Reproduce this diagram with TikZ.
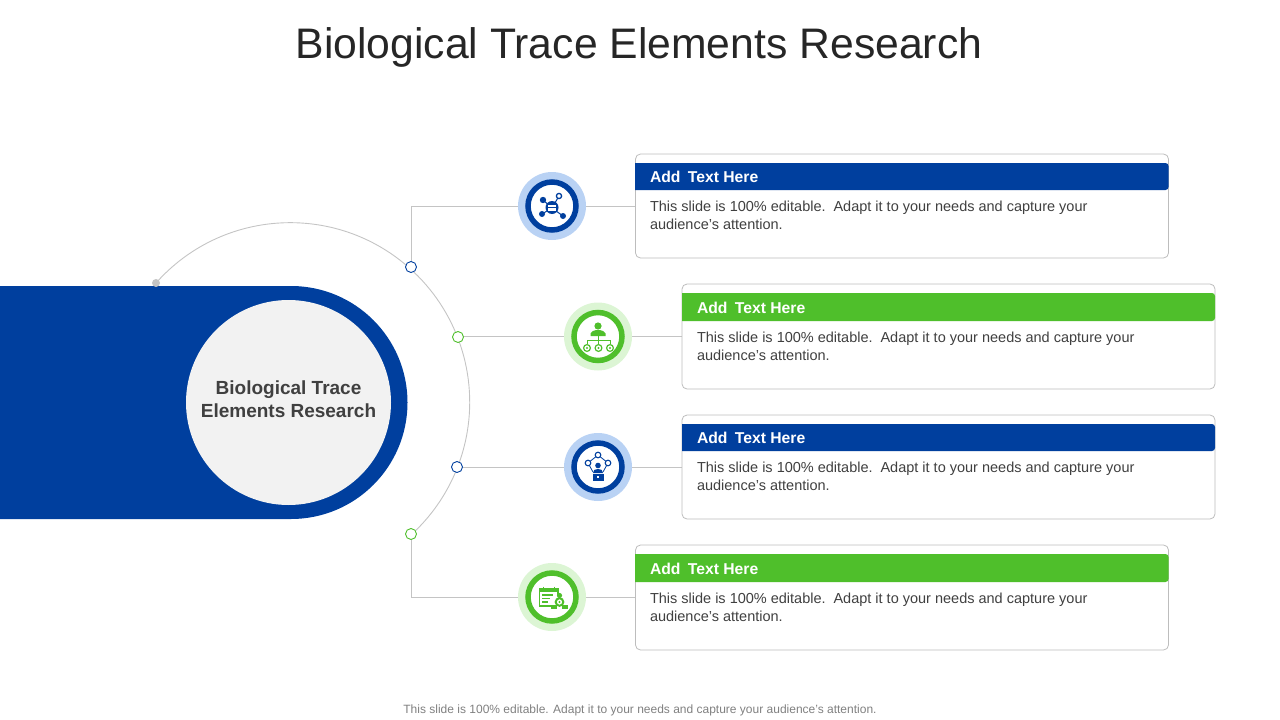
\documentclass[tikz,border=0pt]{standalone}
\usepackage{fontspec}
\setmainfont{Liberation Sans}
\usetikzlibrary{backgrounds}
\definecolor{bluem}{HTML}{003F9E}
\definecolor{greenm}{HTML}{4FBF2B}
\definecolor{bluel}{HTML}{B9D2F4}
\definecolor{greenl}{HTML}{DCF5D4}
\definecolor{linec}{HTML}{C4C4C4}
\definecolor{cardl}{HTML}{BDBDBD}
\definecolor{txt}{HTML}{404040}
\tikzset{
  every node/.style={inner sep=0pt,outer sep=0pt},
  cardbox/.style={draw=cardl,line width=0.8pt,fill=white,rounded corners=5pt,anchor=north west,minimum width=533pt,minimum height=104pt},
  halo/.style={circle,minimum size=68pt},
  ring/.style={circle,fill=white,line width=5.5pt,minimum size=48pt},
  dotm/.style={circle,fill=white,line width=0.9pt,minimum size=11pt},
  conn/.style={draw=linec,line width=0.9pt},
  headt/.style={anchor=west,text=white,font=\fontsize{15.7}{18}\selectfont\bfseries},
  bodyt/.style={anchor=north west,text=txt,align=left,font=\fontsize{14.5}{18}\selectfont},
}
\newcommand{\bodytext}{This slide is 100\% editable.\hspace{2.5pt} Adapt it to your needs and capture your\\audience's attention.}
\newcommand{\headtext}{Add\hspace{3pt} Text Here}
\begin{document}
\begin{tikzpicture}[x=1pt,y=-1pt]
\useasboundingbox (0,0) rectangle (1280,720);
% left band
\fill[bluem] (0,286) -- (291,286) arc[start angle=-90,end angle=90,radius=116.5] -- (0,519) -- cycle;
\node[circle,fill=black!5,minimum size=205pt] (hub) at (288.5,402.5) {};
\node[align=center,text=txt,font=\fontsize{19}{23}\selectfont\bfseries] (hubtext) at (288.5,399.5) {Biological Trace\\Elements Research};
% arc
\coordinate (arcstart) at (156,283);
\draw[conn] (arcstart) arc[start angle=-138.4,end angle=47.5,radius=179.5];
\node[circle,fill=linec,minimum size=8pt] (startdot) at (arcstart) {};
% cards
\node[cardbox] (c1) at (635.5,154) {};
\node[cardbox,minimum height=105pt] (c2) at (682,284) {};
\node[cardbox] (c3) at (682,415) {};
\node[cardbox,minimum height=105pt] (c4) at (635.5,545) {};
% headers
\fill[bluem] (635,163) [rounded corners=3pt] -- (1168.5,163) -- (1168.5,190) [sharp corners] -- (635,190) -- cycle;
\fill[greenm] (682,293) [rounded corners=3pt] -- (1215,293) -- (1215,321) [sharp corners] -- (682,321) -- cycle;
\fill[bluem] (682,424) [rounded corners=3pt] -- (1215,424) -- (1215,451) [sharp corners] -- (682,451) -- cycle;
\fill[greenm] (635,554) [rounded corners=3pt] -- (1168.5,554) -- (1168.5,582) [sharp corners] -- (635,582) -- cycle;
\node[headt] (h1) at (650,177.3) {\headtext};
\node[headt] (h2) at (697,308.3) {\headtext};
\node[headt] (h3) at (697,438.3) {\headtext};
\node[headt] (h4) at (650,569.3) {\headtext};
\node[bodyt] (b1) at (650,201) {\bodytext};
\node[bodyt] (b2) at (697,332) {\bodytext};
\node[bodyt] (b3) at (697,462) {\bodytext};
\node[bodyt] (b4) at (650,593) {\bodytext};
% icons discs
\node[halo,fill=bluel] (i1) at (552,206) {};
\node[halo,fill=greenl] (i2) at (598,336.5) {};
\node[halo,fill=bluel] (i3) at (598,467) {};
\node[halo,fill=greenl] (i4) at (552,597) {};
\node[ring,draw=bluem] (r1) at (i1) {};
\node[ring,draw=greenm] (r2) at (i2) {};
\node[ring,draw=bluem] (r3) at (i3) {};
\node[ring,draw=greenm] (r4) at (i4) {};
% dots
\node[dotm,draw=bluem] (d1) at (411,267) {};
\node[dotm,draw=greenm] (d2) at (458,337) {};
\node[dotm,draw=bluem] (d3) at (457,467) {};
\node[dotm,draw=greenm] (d4) at (411,534) {};
% connectors
\begin{scope}[on background layer]
\draw[conn] (d1) |- (i1);
\draw[conn] (i1) -- (i1 -| c1.west);
\draw[conn] (d2) -- (i2 -| d2.east) -- (i2);
\draw[conn] (i2) -- (i2 -| c2.west);
\draw[conn] (d3) -- (i3);
\draw[conn] (i3) -- (i3 -| c3.west);
\draw[conn] (d4) |- (i4);
\draw[conn] (i4) -- (i4 -| c4.west);
\end{scope}
% icon 1 network
\begin{scope}[bluem]
\draw[line width=1pt] (543,200) -- (552,208) (559,196) -- (552,208) (542,214) -- (552,208) (563,216) -- (552,208);
\fill (552,207.5) circle[radius=6.5];
\fill[white] (548,205) rectangle (556,210.5);
\fill (548,207.3) rectangle (556,208);
\fill (543,200) circle[radius=3.2];
\filldraw[fill=white,draw=bluem,line width=1.3pt] (559,196) circle[radius=2.6];
\fill (542,214) circle[radius=3];
\fill (563,216) circle[radius=3];
\end{scope}
% icon 2 org chart
\begin{scope}[greenm]
\fill (598,326) circle[radius=3.6];
\fill (590.5,336) -- (590.5,333.5) .. controls (591,331) and (594,331) .. (596,330) -- (600,330) .. controls (602,331) and (605,331) .. (605.5,333.5) -- (605.5,336) -- cycle;
\draw[line width=1pt] (598,336) -- (598,344) (587,344) -- (587,340) -- (610,340) -- (610,344);
\foreach \xx in {587,598.5,610} {
  \draw[line width=1.2pt,fill=white] (\xx,348) circle[radius=3.4];
  \fill (\xx,348) circle[radius=1.1];
}
\end{scope}
% icon 3 person at desk
\begin{scope}[bluem]
\draw[line width=0.8pt] (598,455) -- (588,463) -- (593,472) (598,455) -- (608,463) -- (603,472);
\filldraw[fill=white,draw=bluem,line width=1.1pt] (598,455) circle[radius=2.8];
\filldraw[fill=white,draw=bluem,line width=1.1pt] (588,463) circle[radius=2.8];
\filldraw[fill=white,draw=bluem,line width=1.1pt] (608,463) circle[radius=2.8];
\fill (598,465.5) circle[radius=2.8];
\fill (593,473) .. controls (593,470) and (595,469) .. (598,469) .. controls (601,469) and (603,470) .. (603,473) -- cycle;
\fill (592.5,473.5) rectangle (603.5,481);
\fill[white] (597,476) rectangle (599,478);
\end{scope}
% icon 4 calendar and gear
\begin{scope}[greenm]
\draw[line width=1.3pt] (539.5,589) rectangle (558,606);
\fill (539.5,589) rectangle (558,592);
\draw[line width=1pt] (543,586.5) -- (543,590) (554,586.5) -- (554,590);
\draw[line width=1.2pt] (542,595) -- (553,595) (542,598.5) -- (550,598.5) (542,602) -- (548,602);
\fill[white] (552,596) rectangle (569,610);
\fill (559.5,595.5) circle[radius=2.6];
\draw[line width=2pt,fill=white] (559.5,602) circle[radius=3.8];
\fill (559.5,602) circle[radius=1.2];
\fill (551,608.5) rectangle (557,604.5);
\fill (562,608.5) rectangle (568,604.5);
\end{scope}
% title and footer
\node[text=black!85,font=\fontsize{42.7}{50}\selectfont] (title) at (639,47) {Biological Trace Elements Research};
\node[text=black!50,font=\fontsize{12}{14}\selectfont] (foot) at (640,710) {This slide is 100\% editable. Adapt it to your needs and capture your audience's attention.};
\end{tikzpicture}
\end{document}
